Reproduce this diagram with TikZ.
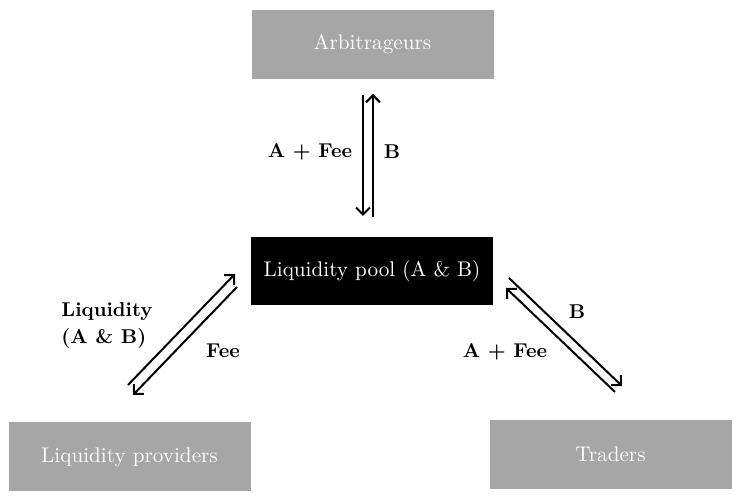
\documentclass[tikz,border=0pt]{standalone}
\usetikzlibrary{arrows.meta}
\definecolor{boxgray}{HTML}{A6A6A6}
\tikzset{
  graybox/.style={fill=boxgray, text=white, font=\fontsize{10.6}{12}\selectfont, minimum width=121pt, minimum height=34.5pt, inner sep=0pt},
  poolbox/.style={fill=black, text=white, font=\fontsize{10.6}{12}\selectfont, minimum width=121pt, minimum height=34pt, inner sep=0pt},
  flow/.style={-{Straight Barb[length=3.5pt,width=7pt]}, line width=1pt},
  lbl/.style={font=\fontsize{10}{13.5}\selectfont\bfseries, inner sep=0pt}
}
\begin{document}
\begin{tikzpicture}[x=0.5pt, y=-0.5pt]
\useasboundingbox (0,0) rectangle (741,501);
% boxes
\node[graybox] (arb) at (372.5,44.5) {Arbitrageurs};
\node[poolbox] (pool) at (372,271) {Liquidity pool (A \& B)};
\node[graybox] (lp) at (129.5,457) {Liquidity providers};
\node[graybox] (tr) at (610.5,454.5) {Traders};
% arrow ends
\coordinate (a1) at (363,95);
\coordinate (a2) at (363,216);
\coordinate (b1) at (373,217);
\coordinate (b2) at (373,94);
\coordinate (c1) at (128,385);
\coordinate (c2) at (235,274);
\coordinate (d1) at (237,287);
\coordinate (d2) at (133,395);
\coordinate (e1) at (509,278);
\coordinate (e2) at (622,386);
\coordinate (f1) at (615,392);
\coordinate (f2) at (506,288);
% arrows
\draw[flow] (a1) -- (a2);
\draw[flow] (b1) -- (b2);
\draw[flow] (c1) -- (c2);
\draw[flow] (d1) -- (d2);
\draw[flow] (e1) -- (e2);
\draw[flow] (f1) -- (f2);
% labels
\node[lbl] (lfee1) at (310,152) {A + Fee};
\node[lbl] (lb1) at (392,152) {B};
\node[lbl, align=left] (lliq) at (107,326) {Liquidity\\(A \& B)};
\node[lbl] (lfee2) at (223,351) {Fee};
\node[lbl] (lb2) at (577,312) {B};
\node[lbl] (lfee3) at (505,352) {A + Fee};
\end{tikzpicture}
\end{document}
